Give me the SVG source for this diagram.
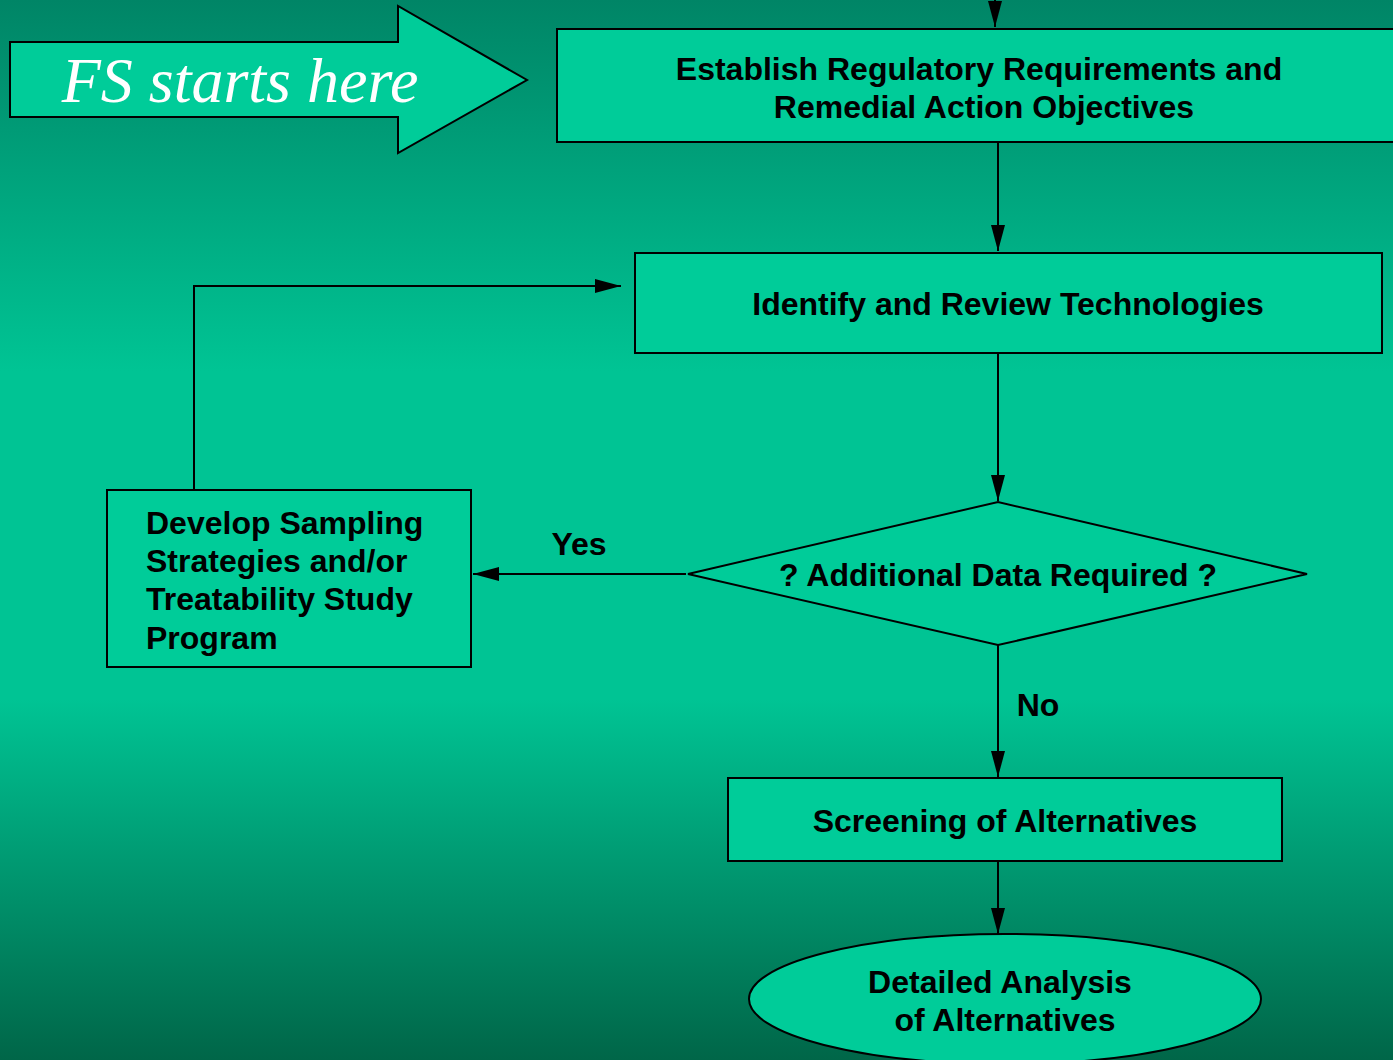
<svg xmlns="http://www.w3.org/2000/svg" width="1393" height="1060" viewBox="0 0 1393 1060">
<defs>
<linearGradient id="bg" x1="0" y1="0" x2="0" y2="1">
<stop offset="0" stop-color="#008566"/>
<stop offset="0.35" stop-color="#00c494"/>
<stop offset="0.66" stop-color="#00c494"/>
<stop offset="1" stop-color="#006648"/>
</linearGradient>
<marker id="ah2" viewBox="0 0 26 14" refX="26" refY="7" markerWidth="26" markerHeight="14" markerUnits="userSpaceOnUse" orient="auto">
<path d="M0,0 L26,7 L0,14 z" fill="#000"/>
</marker>
</defs>
<style>
.shape{fill:#00cc99;stroke:#000;stroke-width:2}
.t{font-family:"Liberation Sans",Arial,sans-serif;font-weight:bold;font-size:32px;fill:#000}
.c{text-anchor:middle}
.line{fill:none;stroke:#000;stroke-width:2;marker-end:url(#ah2)}
</style>
<rect width="1393" height="1060" fill="url(#bg)"/>
<g id="connectors">
<line class="line" x1="995" y1="0" x2="995" y2="27"/>
<line class="line" x1="998" y1="142" x2="998" y2="251"/>
<line class="line" x1="998" y1="349" x2="998" y2="501"/>
<line class="line" x1="998" y1="645" x2="998" y2="777"/>
<line class="line" x1="998" y1="861" x2="998" y2="934"/>
<line class="line" x1="686" y1="574" x2="473" y2="574"/>
<polyline class="line" points="194,490 194,286 621,286"/>
<text class="t c" x="579" y="555">Yes</text>
<text class="t c" x="1038" y="716">No</text>
</g>
<g id="fs-arrow">
<polygon class="shape" points="10,42 398,42 398,6 527,80 398,153 398,117 10,117"/>
<text x="240" y="102" text-anchor="middle" font-family="Liberation Serif,'Times New Roman',serif" font-style="italic" font-size="64" fill="#fff">FS starts here</text>
</g>
<g id="establish">
<rect class="shape" x="557" y="29" width="850" height="113"/>
<text class="t c" x="979" y="80">Establish Regulatory Requirements and</text>
<text class="t c" x="984" y="118">Remedial Action Objectives</text>
</g>
<g id="identify">
<rect class="shape" x="635" y="253" width="747" height="100"/>
<text class="t c" x="1008" y="315">Identify and Review Technologies</text>
</g>
<g id="decision">
<polygon class="shape" points="688,574 998,502 1307,574 998,645"/>
<text class="t c" x="998" y="586">? Additional Data Required ?</text>
</g>
<g id="develop">
<rect class="shape" x="107" y="490" width="364" height="177"/>
<text class="t" x="146" y="534">Develop Sampling</text>
<text class="t" x="146" y="572">Strategies and/or</text>
<text class="t" x="146" y="610">Treatability Study</text>
<text class="t" x="146" y="649">Program</text>
</g>
<g id="screening">
<rect class="shape" x="728" y="778" width="554" height="83"/>
<text class="t c" x="1005" y="832">Screening of Alternatives</text>
</g>
<g id="detailed">
<ellipse class="shape" cx="1005" cy="999" rx="256" ry="65"/>
<text class="t c" x="1000" y="993">Detailed Analysis</text>
<text class="t c" x="1005" y="1031">of Alternatives</text>
</g>
</svg>
